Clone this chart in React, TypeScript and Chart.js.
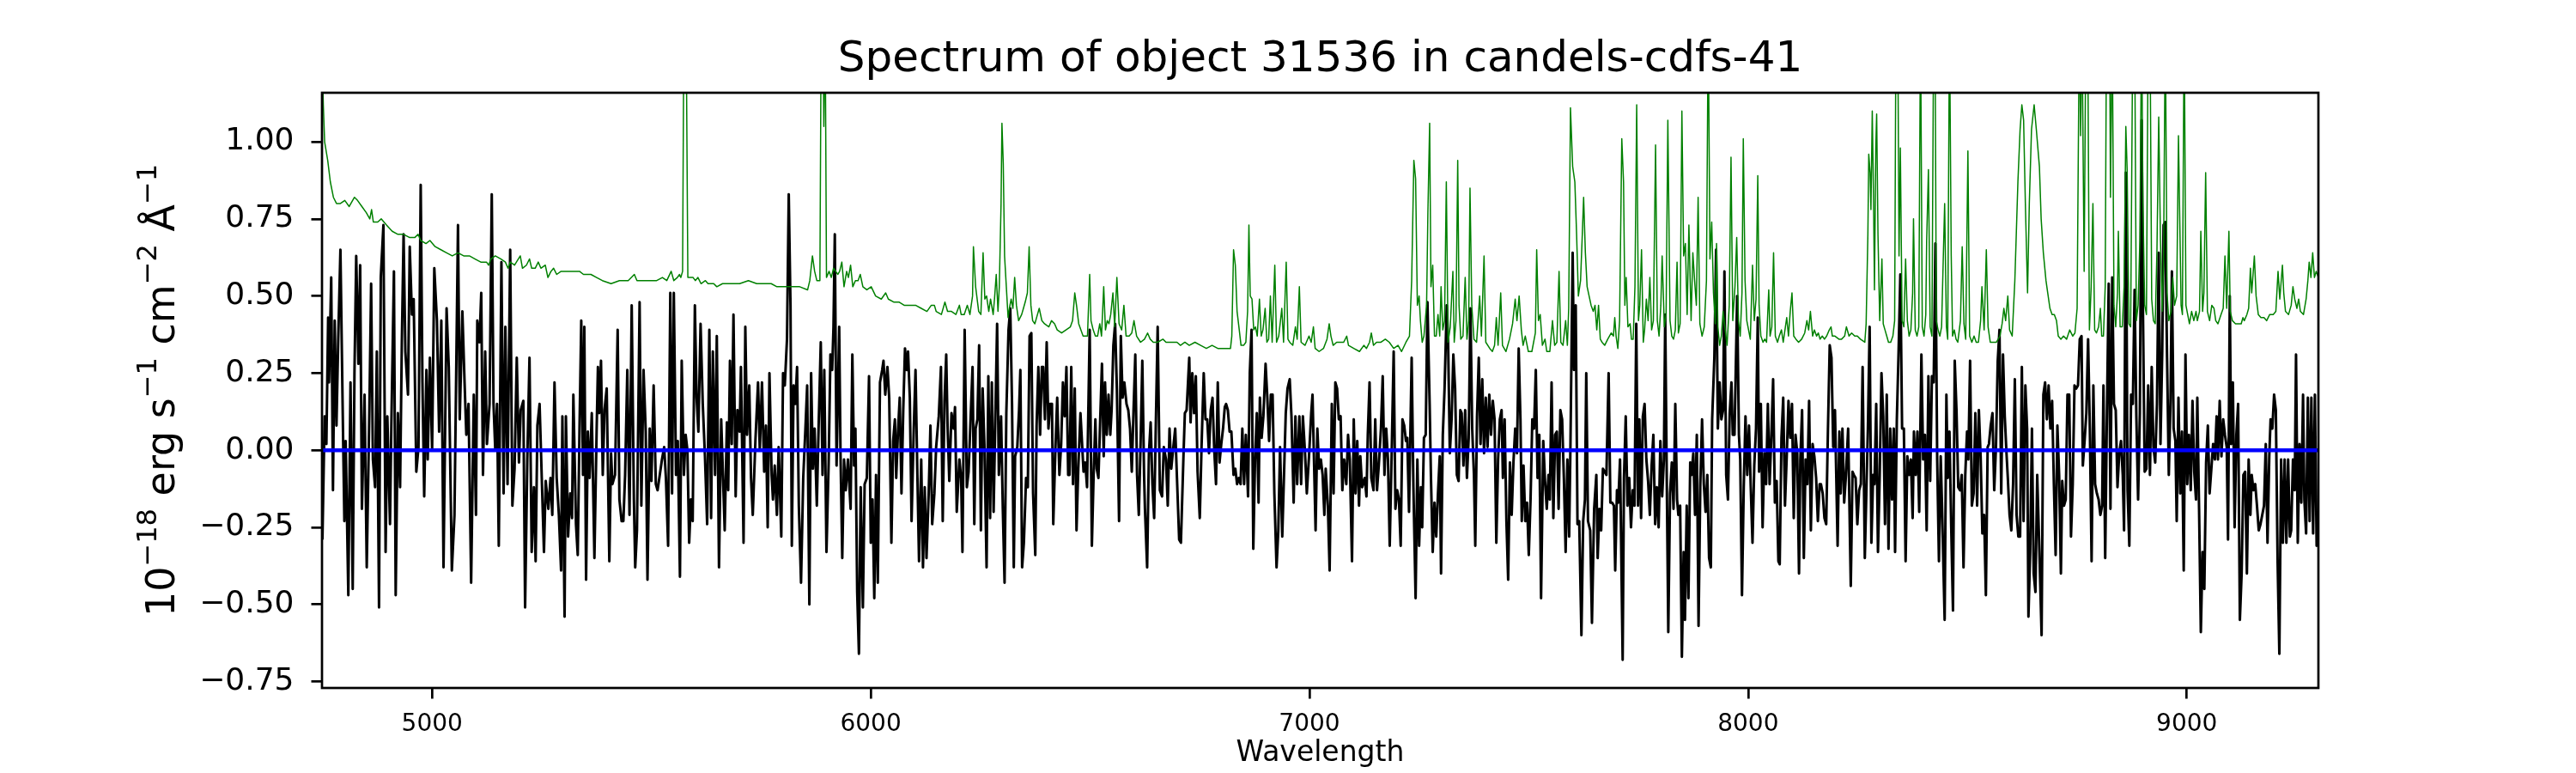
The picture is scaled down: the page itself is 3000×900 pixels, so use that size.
import React, { useEffect, useRef } from 'react';
import { Chart, registerables } from 'chart.js';

Chart.register(...registerables);

const TITLE = 'Spectrum of object 31536 in candels-cdfs-41';
const X_LABEL = 'Wavelength';
const Y_LABEL_PARTS: { t: string; sup: boolean }[] = [
  { t: '10', sup: false },
  { t: '\u221218', sup: true },
  { t: ' erg s', sup: false },
  { t: '\u22121', sup: true },
  { t: ' cm', sup: false },
  { t: '\u22122', sup: true },
  { t: ' \u00c5', sup: false },
  { t: '\u22121', sup: true },
];

const X_RANGE = [4749, 9300];
const Y_RANGE = [-0.771, 1.159];
const X_TICKS = [5000, 6000, 7000, 8000, 9000];
const Y_TICKS = [-0.75, -0.5, -0.25, 0, 0.25, 0.5, 0.75, 1.0];
const ZERO_LEVEL = 0;

// Observed flux [wavelength (Å), flux (1e-18 erg/s/cm2/Å)]
const FLUX: [number, number][] = [
[4750,-0.29],[4755,0.11],[4759,0.02],[4763,0.43],[4765,0.22],[4770,0.56],[4774,-0.13],[4778,0.42],[4782,0.08],[4786,0.36],[4791,0.65],[4797,0.05],[4800,-0.23],[4803,0.03],[4809,-0.47],[4814,0.22],[4819,-0.45],[4823,0.25],[4827,0.63],[4832,0.28],[4836,0.60],[4840,-0.19],[4846,0.18],[4851,-0.38],[4857,0.13],[4861,0.54],[4865,-0.03],[4870,-0.12],[4874,0.32],[4879,-0.51],[4883,0.56],[4889,0.73],[4894,-0.33],[4898,0.11],[4904,-0.24],[4907,0.07],[4913,0.58],[4917,-0.47],[4922,0.12],[4927,-0.12],[4931,0.35],[4935,0.70],[4939,0.32],[4945,0.18],[4949,0.66],[4954,0.44],[4958,0.49],[4964,-0.07],[4969,0.01],[4974,0.86],[4978,0.22],[4982,-0.15],[4987,0.26],[4990,-0.03],[4995,0.30],[5000,0.00],[5005,0.59],[5011,0.42],[5016,0.06],[5021,0.42],[5026,-0.38],[5033,0.46],[5038,0.27],[5045,-0.39],[5051,-0.21],[5059,0.73],[5063,0.10],[5069,0.45],[5074,0.22],[5078,0.05],[5083,0.15],[5089,-0.43],[5095,0.18],[5100,-0.21],[5103,0.42],[5108,0.35],[5112,0.51],[5116,-0.08],[5121,0.32],[5125,0.02],[5131,0.15],[5136,0.83],[5140,0.15],[5144,0.00],[5148,0.15],[5152,-0.31],[5158,0.61],[5163,-0.14],[5167,0.40],[5172,-0.11],[5178,0.65],[5183,-0.18],[5188,-0.06],[5193,0.30],[5198,-0.04],[5202,0.13],[5208,0.16],[5212,-0.51],[5217,-0.03],[5222,0.30],[5227,-0.33],[5232,-0.12],[5236,-0.36],[5240,0.08],[5245,0.15],[5250,-0.09],[5255,-0.33],[5259,-0.10],[5265,-0.19],[5270,-0.09],[5274,-0.21],[5279,0.22],[5284,-0.09],[5289,-0.21],[5294,-0.39],[5297,0.11],[5302,-0.54],[5305,0.11],[5310,-0.28],[5315,-0.14],[5319,-0.22],[5322,0.18],
[5328,-0.24],[5332,-0.34],[5336,0.07],[5340,0.42],[5344,-0.08],[5347,0.40],[5351,-0.42],[5355,0.06],[5359,-0.09],[5364,0.12],[5370,-0.35],[5375,0.06],[5378,0.27],[5381,0.12],[5385,0.29],[5389,-0.08],[5393,0.13],[5398,0.20],[5404,-0.36],[5408,-0.01],[5411,-0.11],[5417,-0.08],[5423,0.39],[5427,-0.16],[5432,-0.23],[5436,-0.23],[5440,-0.08],[5445,0.26],[5450,-0.21],[5455,0.47],[5460,-0.16],[5463,-0.38],[5467,-0.26],[5473,0.48],[5477,-0.18],[5482,0.26],[5487,0.06],[5491,-0.42],[5496,0.07],[5500,-0.10],[5505,0.21],[5510,-0.11],[5514,-0.13],[5518,-0.09],[5524,-0.03],[5529,0.01],[5533,-0.09],[5538,-0.31],[5543,0.51],[5547,-0.14],[5551,0.51],[5556,-0.08],[5560,0.03],[5565,-0.41],[5569,0.29],[5574,-0.08],[5578,0.05],[5582,0.00],[5586,-0.30],[5590,-0.16],[5594,-0.23],[5599,0.47],[5603,0.17],[5607,0.06],[5612,0.41],[5617,0.15],[5622,-0.02],[5627,-0.24],[5632,0.39],[5636,-0.22],[5640,0.32],[5645,-0.08],[5649,0.37],[5654,-0.38],[5659,0.10],[5663,-0.08],[5667,-0.26],[5672,0.09],[5675,-0.13],[5679,0.29],[5683,0.02],[5687,0.44],[5692,-0.15],[5696,0.13],[5701,0.06],[5704,0.27],[5710,-0.30],[5714,0.40],[5718,0.05],[5723,0.21],[5727,-0.09],[5731,-0.21],[5737,0.03],[5743,0.22],[5747,0.00],[5752,0.22],[5757,-0.07],[5761,0.08],[5765,-0.25],[5769,0.25],[5774,-0.08],[5777,-0.16],[5781,-0.05],[5786,-0.21],[5790,0.01],[5796,-0.28],[5800,0.25],[5804,0.21],[5809,0.36],[5813,0.83],[5817,0.47],[5820,-0.31],[5824,0.21],[5828,0.15],[5832,0.27],[5836,-0.18],[5841,-0.43],[5846,-0.09],[5851,0.07],[5855,0.21],[5860,-0.50],[5864,0.25],[5868,-0.06],[5872,0.07],[5877,-0.18],[5881,0.07],[5886,0.35],[5890,-0.08],[5894,0.26],[5899,-0.33],
[5904,-0.04],[5908,0.31],[5912,0.26],[5915,0.40],[5918,0.70],[5922,-0.05],[5928,0.40],[5931,-0.01],[5935,-0.35],[5939,-0.03],[5943,-0.13],[5948,-0.03],[5954,-0.19],[5958,0.31],[5962,-0.05],[5965,0.07],[5969,-0.46],[5973,-0.66],[5977,-0.12],[5982,-0.51],[5986,-0.11],[5991,-0.09],[5996,0.24],[6000,-0.30],[6004,-0.16],[6008,-0.48],[6012,-0.08],[6016,-0.43],[6021,0.22],[6026,0.26],[6029,0.29],[6033,0.18],[6038,0.27],[6042,0.17],[6047,-0.30],[6051,0.03],[6055,0.10],[6058,-0.09],[6062,0.06],[6066,0.17],[6070,-0.14],[6074,0.13],[6078,0.33],[6082,0.26],[6085,0.32],[6089,0.17],[6093,-0.23],[6098,0.07],[6102,0.26],[6106,-0.06],[6110,-0.36],[6115,-0.03],[6119,-0.38],[6123,-0.12],[6127,-0.35],[6132,-0.14],[6136,0.08],[6140,-0.24],[6145,-0.14],[6149,0.01],[6155,0.11],[6160,0.27],[6164,-0.23],[6168,0.16],[6172,0.31],[6175,0.08],[6179,-0.10],[6184,0.12],[6189,0.07],[6192,0.14],[6196,-0.20],[6202,-0.03],[6206,-0.09],[6209,-0.33],[6214,0.39],[6219,-0.12],[6223,-0.07],[6228,0.12],[6232,0.27],[6236,-0.24],[6239,0.07],[6243,0.10],[6247,0.34],[6251,-0.26],[6255,0.20],[6259,0.02],[6264,-0.38],[6268,0.24],[6272,-0.22],[6276,0.22],[6280,-0.20],[6284,0.11],[6288,0.41],[6292,-0.08],[6297,0.11],[6301,-0.19],[6305,-0.43],[6309,0.12],[6314,0.39],[6318,0.46],[6322,0.15],[6326,-0.38],[6329,-0.02],[6334,0.01],[6338,0.13],[6341,0.26],[6345,-0.38],[6349,-0.30],[6354,-0.09],[6358,-0.12],[6362,0.37],[6366,0.38],[6370,-0.14],[6375,-0.34],[6378,0.08],[6382,0.27],[6386,0.05],[6390,0.27],[6393,0.27],[6397,0.10],[6401,0.35],[6405,0.07],[6409,0.15],[6413,0.15],[6416,-0.24],[6421,0.01],[6425,0.17],[6430,-0.08],[6434,0.02],[6438,0.22],[6442,0.11],[6446,0.27],[6450,-0.08],[6453,-0.08],[6457,0.27],[6461,-0.11],[6465,0.20],[6469,-0.26],[6473,-0.06],[6478,0.12],
[6485,-0.07],[6489,-0.04],[6493,-0.12],[6499,0.39],[6504,-0.31],[6508,-0.08],[6512,0.10],[6515,-0.06],[6519,-0.09],[6523,0.10],[6527,0.28],[6531,-0.02],[6534,0.22],[6538,0.05],[6542,0.18],[6546,0.05],[6549,0.13],[6553,0.34],[6557,0.41],[6561,0.20],[6566,-0.23],[6570,0.37],[6574,0.17],[6578,0.22],[6583,0.15],[6587,0.13],[6591,0.07],[6595,-0.07],[6599,0.13],[6603,0.31],[6607,-0.08],[6611,-0.21],[6615,0.02],[6619,0.29],[6623,-0.08],[6625,-0.19],[6630,-0.38],[6634,-0.01],[6638,0.09],[6642,-0.11],[6646,-0.22],[6650,0.10],[6654,0.40],[6659,-0.13],[6664,-0.15],[6668,0.01],[6673,-0.03],[6677,-0.18],[6681,0.07],[6685,-0.06],[6689,0.00],[6694,0.07],[6698,-0.09],[6703,-0.29],[6707,-0.30],[6713,-0.01],[6716,0.12],[6720,0.13],[6726,0.30],[6729,0.09],[6733,0.25],[6737,0.12],[6741,0.24],[6745,-0.07],[6750,-0.22],[6754,0.01],[6759,0.25],[6763,0.10],[6767,0.10],[6771,-0.01],[6775,0.13],[6779,0.17],[6783,0.00],[6787,-0.11],[6791,0.22],[6795,-0.04],[6799,0.02],[6803,0.07],[6807,0.14],[6810,0.15],[6814,0.13],[6818,0.06],[6822,0.06],[6827,-0.08],[6831,-0.06],[6835,-0.11],[6839,-0.09],[6843,-0.11],[6847,0.07],[6851,-0.11],[6855,0.05],[6860,-0.15],[6864,0.25],[6868,0.39],[6872,-0.32],[6876,-0.03],[6880,0.12],[6884,-0.17],[6887,0.17],[6891,0.04],[6895,0.11],[6900,0.28],[6904,0.17],[6908,0.03],[6912,0.18],[6916,0.18],[6920,-0.14],[6925,-0.38],[6929,-0.26],[6933,0.01],[6938,-0.28],[6942,-0.08],[6946,0.12],[6950,0.20],[6955,0.23],[6959,0.11],[6964,-0.17],[6968,0.11],[6972,-0.11],[6977,0.11],[6981,-0.11],[6985,0.11],[6990,-0.01],[6994,-0.14],[6999,-0.02],[7004,0.12],[7007,0.18],[7014,-0.26],[7018,0.07],[7022,-0.06],[7026,-0.03],[7030,-0.08],[7034,-0.21],[7037,-0.06],[7042,-0.18],[7046,-0.39],[7051,0.15],
[7055,-0.14],[7059,0.22],[7063,0.20],[7067,0.10],[7071,0.11],[7075,-0.13],[7079,-0.03],[7084,-0.11],[7088,0.05],[7092,-0.03],[7097,-0.36],[7101,0.10],[7105,-0.14],[7109,0.03],[7113,-0.18],[7116,-0.02],[7120,-0.12],[7126,-0.09],[7130,-0.15],[7133,0.05],[7137,0.22],[7141,-0.09],[7146,-0.13],[7150,0.10],[7154,-0.13],[7158,-0.05],[7163,0.07],[7167,0.24],[7171,-0.08],[7175,0.07],[7179,-0.03],[7183,-0.31],[7188,0.03],[7192,0.32],[7196,-0.19],[7200,-0.13],[7204,-0.16],[7208,-0.31],[7212,0.10],[7216,0.08],[7220,0.03],[7223,0.04],[7227,-0.20],[7233,0.30],[7237,-0.12],[7242,-0.48],[7246,-0.03],[7250,-0.31],[7254,-0.12],[7257,-0.25],[7261,0.04],[7265,0.05],[7269,0.48],[7274,0.15],[7277,-0.09],[7281,-0.33],[7285,-0.17],[7289,-0.28],[7293,-0.14],[7297,-0.02],[7300,-0.40],[7304,0.05],[7308,0.20],[7313,0.47],[7316,0.36],[7320,-0.01],[7324,0.10],[7328,0.31],[7332,0.20],[7336,-0.08],[7340,-0.10],[7344,0.13],[7347,0.12],[7351,-0.05],[7355,0.13],[7359,-0.09],[7363,0.04],[7367,0.46],[7371,0.07],[7375,-0.08],[7378,-0.31],[7382,0.11],[7386,0.30],[7390,0.02],[7394,0.23],[7398,-0.01],[7402,0.17],[7406,0.01],[7410,0.18],[7414,0.05],[7418,0.16],[7422,0.10],[7426,-0.30],[7430,-0.03],[7434,0.10],[7438,0.13],[7441,-0.09],[7445,0.10],[7449,-0.23],[7453,-0.42],[7457,-0.04],[7461,-0.21],[7465,-0.04],[7469,0.07],[7473,-0.01],[7477,0.33],[7481,0.10],[7484,-0.23],[7488,-0.05],[7492,-0.23],[7496,-0.17],[7500,-0.34],[7504,-0.16],[7508,0.10],[7512,0.07],[7516,0.26],[7520,-0.09],[7524,0.05],[7528,-0.48],[7533,0.03],[7537,-0.10],[7541,-0.19],[7545,-0.08],[7548,-0.16],[7552,0.22],[7556,-0.22],[7560,0.05],[7564,0.06],[7568,-0.19],[7572,0.13],[7576,0.10],[7580,-0.09],[7584,-0.33],[7588,-0.03],[7592,-0.28],[7595,0.02],[7600,0.64],[7603,0.26],[7607,0.47],[7611,-0.24],[7615,-0.23],[7620,-0.60],[7624,-0.23],[7628,-0.16],[7631,0.25],
[7635,-0.23],[7640,-0.26],[7644,-0.56],[7649,-0.19],[7654,-0.08],[7657,-0.35],[7661,-0.19],[7665,-0.26],[7669,-0.06],[7673,-0.07],[7677,-0.08],[7682,0.25],[7686,-0.17],[7690,-0.17],[7694,-0.18],[7697,-0.39],[7701,-0.13],[7704,-0.17],[7708,-0.03],[7714,-0.68],[7717,-0.09],[7721,0.11],[7725,-0.18],[7729,-0.09],[7733,-0.25],[7737,-0.13],[7741,-0.18],[7745,0.41],[7749,-0.18],[7752,0.10],[7756,-0.22],[7760,0.11],[7764,0.15],[7768,-0.03],[7772,-0.10],[7776,-0.21],[7780,-0.05],[7784,0.05],[7788,-0.24],[7792,-0.12],[7796,-0.25],[7800,0.03],[7804,-0.15],[7808,-0.03],[7811,0.44],[7815,-0.16],[7818,-0.59],[7822,-0.14],[7826,-0.04],[7830,-0.19],[7834,0.15],[7838,-0.16],[7841,-0.21],[7845,-0.18],[7849,-0.67],[7853,-0.33],[7856,-0.55],[7860,-0.18],[7864,-0.48],[7868,-0.04],[7871,-0.08],[7875,-0.01],[7879,-0.21],[7883,0.05],[7887,-0.57],[7891,-0.11],[7895,0.10],[7899,-0.11],[7903,-0.20],[7907,-0.08],[7911,-0.35],[7915,-0.38],[7918,0.10],[7923,0.30],[7927,0.65],[7931,0.07],[7935,0.22],[7939,0.10],[7943,0.13],[7946,0.58],[7950,-0.08],[7954,-0.16],[7958,0.12],[7962,0.22],[7965,0.05],[7969,0.05],[7975,0.50],[7979,0.05],[7982,-0.03],[7986,-0.47],[7990,-0.12],[7994,0.11],[7998,-0.08],[8002,0.08],[8006,-0.12],[8010,-0.30],[8014,-0.05],[8018,0.07],[8022,0.43],[8025,-0.07],[8029,0.15],[8033,-0.25],[8037,-0.01],[8041,-0.11],[8045,0.15],[8049,-0.11],[8053,0.05],[8057,0.23],[8061,-0.17],[8065,-0.10],[8069,-0.36],[8072,-0.37],[8076,0.04],[8080,0.17],[8084,-0.18],[8088,-0.02],[8092,0.16],[8096,0.04],[8100,0.15],[8104,-0.22],[8108,0.05],[8112,-0.01],[8116,-0.40],[8119,-0.03],[8123,0.13],[8127,-0.35],[8131,-0.03],[8135,-0.11],[8139,0.16],[8143,-0.26],[8147,0.02],[8151,-0.02],[8155,-0.09],[8159,-0.23],[8163,-0.11],[8166,-0.11],[8170,-0.14],[8174,-0.22],[8178,-0.24],[8182,0.07],[8186,0.34],[8190,0.30],[8194,0.01],[8198,0.13],
[8204,-0.31],[8208,0.06],[8211,-0.14],[8215,0.07],[8219,-0.17],[8223,-0.08],[8228,0.07],[8234,-0.44],[8238,-0.07],[8241,-0.08],[8245,-0.09],[8249,-0.24],[8253,-0.13],[8257,-0.11],[8261,0.27],[8266,-0.35],[8270,-0.11],[8273,0.07],[8277,0.40],[8281,-0.30],[8285,-0.08],[8288,-0.11],[8292,0.15],[8296,-0.33],[8300,-0.08],[8304,0.25],[8308,0.11],[8312,-0.24],[8316,0.18],[8320,-0.32],[8324,0.07],[8328,-0.16],[8332,0.07],[8335,-0.33],[8339,0.10],[8343,0.32],[8347,0.57],[8351,0.07],[8355,0.07],[8359,-0.36],[8363,-0.02],[8367,-0.08],[8371,-0.03],[8375,-0.22],[8378,0.06],[8382,-0.08],[8386,0.06],[8390,-0.20],[8395,0.31],[8399,-0.03],[8403,0.05],[8407,-0.26],[8411,0.24],[8415,-0.10],[8419,0.24],[8423,0.22],[8427,0.67],[8431,-0.03],[8435,-0.36],[8439,-0.02],[8442,-0.18],[8448,-0.55],[8452,0.18],[8455,-0.09],[8459,0.06],[8463,-0.25],[8467,-0.52],[8471,0.29],[8475,0.13],[8479,-0.12],[8483,-0.13],[8487,-0.08],[8491,-0.38],[8495,-0.08],[8499,0.06],[8502,-0.03],[8506,0.29],[8510,-0.18],[8514,-0.14],[8518,0.12],[8522,-0.18],[8526,0.13],[8530,-0.02],[8534,-0.27],[8538,-0.21],[8542,-0.47],[8546,0.01],[8549,0.02],[8553,0.08],[8557,0.12],[8561,-0.13],[8565,0.01],[8569,0.29],[8573,0.39],[8577,-0.14],[8581,0.31],[8585,0.11],[8589,-0.01],[8592,-0.09],[8596,-0.21],[8600,-0.26],[8604,-0.11],[8608,0.23],[8612,-0.21],[8616,-0.28],[8620,-0.28],[8624,0.27],[8628,-0.23],[8632,0.21],[8636,0.07],[8639,-0.54],[8643,-0.33],[8647,0.07],[8651,-0.40],[8655,-0.46],[8659,-0.08],[8664,-0.33],[8669,-0.60],[8673,0.18],[8677,0.22],[8681,0.10],[8685,0.21],[8689,0.07],[8693,0.16],[8697,-0.11],[8701,-0.34],[8705,0.08],[8709,-0.08],[8713,-0.40],[8716,-0.10],[8720,-0.18],[8724,-0.16],[8728,0.18],[8732,0.18],[8736,-0.28],[8740,-0.11],[8744,0.21],[8748,0.20],[8752,0.21],[8756,0.36],[8760,0.37],[8763,-0.05],[8767,0.03],[8771,0.12],[8775,0.36],[8779,0.07],[8783,-0.36],[8787,0.21],
[8791,-0.11],[8795,-0.14],[8799,-0.16],[8803,-0.21],[8807,-0.18],[8810,0.21],[8814,-0.35],[8818,0.13],[8822,0.54],[8826,-0.19],[8830,0.56],[8834,0.15],[8838,0.13],[8842,-0.12],[8846,-0.01],[8850,0.03],[8854,-0.08],[8857,-0.26],[8861,0.90],[8865,-0.13],[8869,-0.31],[8873,0.18],[8877,0.15],[8881,0.52],[8885,0.11],[8889,-0.16],[8893,0.12],[8897,1.07],[8900,0.46],[8904,-0.07],[8908,-0.06],[8912,0.21],[8916,-0.08],[8920,0.27],[8924,0.01],[8928,-0.04],[8932,0.15],[8936,0.64],[8940,0.02],[8944,0.32],[8947,0.73],[8951,0.74],[8955,0.30],[8959,-0.08],[8963,0.17],[8966,0.58],[8970,0.07],[8974,0.03],[8977,-0.23],[8981,0.17],[8985,-0.14],[8989,0.06],[8993,-0.39],[8997,0.31],[9001,-0.11],[9005,0.05],[9009,-0.13],[9013,0.16],[9017,-0.07],[9021,-0.16],[9024,0.17],[9028,-0.19],[9032,-0.59],[9036,-0.33],[9040,-0.45],[9044,-0.04],[9048,0.08],[9052,-0.14],[9056,-0.06],[9060,0.02],[9064,-0.03],[9068,0.11],[9071,-0.03],[9075,0.16],[9079,-0.02],[9083,0.10],[9087,0.05],[9091,0.01],[9094,-0.29],[9098,0.50],[9101,0.02],[9105,0.22],[9109,-0.25],[9113,0.05],[9117,0.15],[9121,-0.55],[9125,-0.40],[9129,-0.08],[9133,-0.07],[9137,-0.40],[9141,-0.03],[9145,-0.21],[9148,-0.08],[9152,-0.13],[9156,-0.11],[9160,-0.18],[9164,-0.26],[9168,-0.24],[9172,-0.21],[9176,-0.18],[9180,0.02],[9184,-0.30],[9188,-0.02],[9191,0.10],[9195,0.07],[9199,0.18],[9203,0.13],[9207,-0.36],[9211,-0.66],[9215,-0.03],[9219,-0.30],[9223,-0.03],[9227,-0.30],[9231,-0.03],[9235,-0.28],[9238,-0.26],[9242,-0.03],[9246,-0.13],[9249,0.31],[9253,-0.30],[9257,0.02],[9261,-0.17],[9265,0.18],[9268,-0.16],[9272,-0.27],[9276,0.17],[9280,-0.23],[9284,0.17],[9288,-0.27],[9292,0.18],[9296,-0.31],[9300,-0.25]
];

// Flux uncertainty / sky noise [wavelength (Å), value]
const ERROR: [number, number][] = [
[4749,1.30],[4752,1.12],[4755,1.00],[4762,0.94],[4768,0.87],[4775,0.82],[4782,0.80],[4791,0.80],[4801,0.81],[4811,0.79],[4823,0.82],[4830,0.81],[4840,0.79],[4850,0.77],[4858,0.75],[4862,0.78],[4866,0.74],[4876,0.74],[4884,0.75],[4896,0.73],[4909,0.71],[4922,0.70],[4935,0.70],[4948,0.69],[4961,0.69],[4968,0.70],[4974,0.68],[4986,0.67],[4995,0.68],[5007,0.66],[5020,0.65],[5033,0.64],[5046,0.63],[5059,0.64],[5072,0.63],[5085,0.63],[5098,0.62],[5111,0.61],[5124,0.61],[5129,0.60],[5134,0.62],[5144,0.63],[5157,0.62],[5167,0.61],[5173,0.59],[5178,0.61],[5188,0.60],[5201,0.63],[5206,0.59],[5215,0.60],[5222,0.62],[5227,0.59],[5235,0.59],[5242,0.61],[5248,0.59],[5258,0.60],[5264,0.56],[5271,0.58],[5277,0.59],[5284,0.57],[5294,0.58],
[5336,0.58],[5345,0.57],[5362,0.57],[5375,0.56],[5388,0.55],[5408,0.54],[5427,0.55],[5447,0.55],[5461,0.57],[5467,0.55],[5486,0.55],[5502,0.55],[5512,0.55],[5525,0.56],[5535,0.55],[5545,0.58],[5551,0.55],[5559,0.56],[5564,0.57],[5567,0.56],[5571,0.58],[5574,1.40],[5579,1.40],[5583,0.56],[5590,0.56],[5595,0.56],[5600,0.55],[5606,0.56],[5613,0.54],[5623,0.55],[5629,0.54],[5642,0.54],[5649,0.53],[5662,0.54],[5682,0.54],[5701,0.54],[5721,0.55],[5740,0.54],[5760,0.54],[5773,0.54],[5786,0.53],[5799,0.53],[5819,0.53],[5838,0.53],[5856,0.52],[5861,0.55],[5867,0.63],[5872,0.58],[5877,0.55],[5884,0.55],[5887,1.40],[5891,1.40],[5893,1.05],[5896,1.40],[5899,0.56],
[5905,0.58],[5910,0.56],[5915,0.59],[5920,0.58],[5925,0.57],[5929,0.58],[5934,0.61],[5939,0.53],[5945,0.58],[5949,0.56],[5954,0.60],[5959,0.53],[5965,0.55],[5971,0.55],[5976,0.57],[5982,0.53],[5991,0.52],[6001,0.53],[6011,0.50],[6024,0.49],[6034,0.51],[6040,0.49],[6053,0.48],[6065,0.48],[6076,0.47],[6089,0.47],[6102,0.47],[6115,0.46],[6128,0.45],[6138,0.47],[6145,0.47],[6149,0.45],[6161,0.44],[6169,0.48],[6175,0.45],[6184,0.45],[6194,0.44],[6202,0.47],[6206,0.44],[6213,0.44],[6220,0.47],[6226,0.44],[6232,0.50],[6234,0.66],[6239,0.53],[6246,0.45],[6251,0.44],[6256,0.64],[6260,0.49],[6264,0.50],[6269,0.45],[6273,0.49],[6279,0.44],[6282,0.49],[6286,0.57],[6290,0.45],[6293,0.53],[6297,0.80],[6299,1.06],[6302,0.93],[6305,0.63],[6309,0.53],[6313,0.43],[6316,0.46],[6320,0.49],[6324,0.46],[6328,0.56],[6332,0.47],[6337,0.42],[6344,0.44],[6348,0.46],[6352,0.48],[6357,0.51],[6361,0.66],[6365,0.47],[6369,0.42],[6374,0.41],[6380,0.44],[6384,0.46],[6390,0.42],[6396,0.41],[6406,0.40],[6412,0.42],[6419,0.41],[6425,0.39],[6435,0.38],[6445,0.39],[6455,0.40],[6460,0.42],[6465,0.51],[6469,0.47],[6474,0.41],
[6484,0.37],[6494,0.37],[6499,0.57],[6502,0.42],[6507,0.39],[6512,0.37],[6517,0.37],[6522,0.41],[6526,0.37],[6531,0.53],[6535,0.39],[6539,0.42],[6543,0.41],[6547,0.44],[6552,0.51],[6556,0.40],[6561,0.56],[6566,0.41],[6572,0.39],[6577,0.47],[6582,0.37],[6589,0.37],[6595,0.38],[6600,0.42],[6606,0.37],[6615,0.35],[6624,0.36],[6631,0.38],[6637,0.36],[6644,0.35],[6654,0.35],[6666,0.36],[6673,0.35],[6686,0.35],[6698,0.35],[6706,0.34],[6716,0.35],[6726,0.34],[6739,0.35],[6752,0.34],[6765,0.33],[6778,0.34],[6791,0.33],[6807,0.33],[6820,0.33],[6823,0.37],[6827,0.65],[6831,0.60],[6835,0.45],[6840,0.39],[6844,0.34],[6850,0.34],[6855,0.35],[6859,0.45],[6862,0.73],[6865,0.50],[6869,0.49],[6873,0.39],[6877,0.40],[6881,0.37],[6886,0.49],[6890,0.37],[6894,0.39],[6899,0.46],[6903,0.35],[6907,0.36],[6911,0.50],[6915,0.35],[6921,0.60],[6925,0.35],[6930,0.37],[6937,0.46],[6941,0.35],[6947,0.61],[6951,0.36],[6955,0.35],[6962,0.34],[6968,0.40],[6972,0.36],[6977,0.53],[6981,0.35],[6990,0.34],[6999,0.37],[7004,0.35],[7009,0.40],[7013,0.33],[7022,0.32],[7032,0.33],[7040,0.36],[7045,0.41],[7049,0.37],[7054,0.34],
[7062,0.35],[7068,0.35],[7078,0.35],[7085,0.37],[7089,0.34],[7101,0.33],[7114,0.32],[7124,0.34],[7130,0.33],[7137,0.35],[7141,0.38],[7146,0.34],[7153,0.35],[7163,0.35],[7173,0.36],[7182,0.35],[7192,0.33],[7202,0.34],[7210,0.32],[7220,0.35],[7228,0.37],[7233,0.55],[7238,0.94],[7242,0.88],[7246,0.47],[7250,0.50],[7253,0.42],[7257,0.35],[7261,0.37],[7267,0.47],[7270,0.77],[7274,1.06],[7277,0.53],[7281,0.60],[7285,0.37],[7289,0.37],[7293,0.44],[7297,0.37],[7300,0.53],[7304,0.39],[7308,0.42],[7312,0.87],[7316,0.35],[7321,0.40],[7327,0.58],[7330,0.35],[7334,0.42],[7338,0.94],[7341,0.47],[7345,0.36],[7350,0.37],[7355,0.56],[7359,0.36],[7363,0.42],[7366,0.85],[7370,0.47],[7375,0.36],[7381,0.35],[7388,0.50],[7392,0.37],[7398,0.63],[7402,0.35],[7411,0.33],[7417,0.32],[7422,0.34],[7426,0.43],[7430,0.34],[7436,0.51],[7440,0.34],[7448,0.32],[7456,0.36],[7463,0.41],[7469,0.49],[7473,0.42],[7478,0.50],[7483,0.39],[7487,0.34],[7492,0.37],[7499,0.32],[7507,0.32],[7515,0.38],[7518,0.65],[7522,0.42],[7526,0.44],[7531,0.34],[7537,0.36],[7541,0.32],[7548,0.32],[7554,0.42],[7559,0.34],[7564,0.35],[7569,0.58],[7573,0.35],[7578,0.34],[7584,0.42],[7588,0.34],[7591,0.46],[7595,1.11],[7600,0.92],[7605,0.87],[7609,0.70],[7613,0.50],[7618,0.55],[7622,0.70],[7625,0.82],[7629,0.64],[7633,0.53],
[7642,0.47],[7647,0.45],[7651,0.47],[7655,0.39],[7659,0.47],[7663,0.36],[7667,0.35],[7673,0.34],[7680,0.36],[7688,0.38],[7693,0.37],[7696,0.43],[7699,0.37],[7703,0.33],[7707,0.42],[7712,1.01],[7716,0.87],[7719,0.47],[7722,0.56],[7726,0.40],[7731,0.41],[7734,0.36],[7738,0.36],[7742,0.53],[7746,1.12],[7750,0.42],[7753,0.47],[7757,0.65],[7761,0.35],[7764,0.39],[7768,0.49],[7772,0.42],[7776,0.56],[7780,0.39],[7784,0.42],[7789,0.99],[7793,0.42],[7797,0.37],[7801,0.47],[7804,0.63],[7809,0.40],[7813,0.44],[7817,1.07],[7822,0.42],[7826,0.37],[7830,0.36],[7834,0.39],[7838,0.61],[7841,0.38],[7845,0.41],[7849,1.10],[7853,0.63],[7857,0.67],[7861,0.44],[7865,0.73],[7870,0.42],[7874,0.64],[7878,0.55],[7882,0.47],[7886,0.82],[7890,0.41],[7895,0.37],[7900,0.40],[7905,0.55],[7909,1.40],[7913,0.62],[7917,0.74],[7921,0.51],[7925,0.41],[7928,0.67],[7931,0.40],[7935,0.34],[7939,0.37],[7943,0.45],[7947,0.40],[7952,0.34],[7957,0.47],[7961,0.95],[7965,0.42],[7970,0.53],[7974,0.69],[7978,0.42],[7982,0.37],[7986,0.51],[7989,1.01],[7993,0.55],[7997,0.42],[8001,0.39],[8005,0.36],[8010,0.60],[8014,0.42],[8018,0.49],[8022,0.89],[8025,0.47],[8029,0.37],[8034,0.35],[8038,0.36],[8042,0.35],[8047,0.52],[8050,0.37],[8054,0.40],[8058,0.64],[8062,0.37],[8067,0.35],[8071,0.37],[8076,0.39],[8080,0.35],[8084,0.39],[8088,0.43],[8092,0.37],[8096,0.45],[8100,0.51],[8104,0.37],[8109,0.36],[8115,0.35],[8122,0.36],[8129,0.38],[8134,0.42],[8138,0.39],[8142,0.45],[8147,0.37],[8151,0.39],[8156,0.37],[8160,0.38],[8164,0.36],[8169,0.37],[8174,0.36],[8179,0.37],[8185,0.39],[8189,0.40],[8192,0.37],[8198,0.37],[8207,0.36],[8213,0.36],
[8220,0.37],[8224,0.40],[8230,0.37],[8236,0.38],[8243,0.37],[8249,0.37],[8256,0.36],[8266,0.35],[8269,0.41],[8273,0.70],[8275,0.96],[8278,0.90],[8280,0.78],[8283,1.10],[8286,0.80],[8288,0.52],[8291,0.98],[8293,1.09],[8296,0.70],[8300,0.42],[8305,0.62],[8308,0.41],[8312,0.39],[8316,0.37],[8320,0.35],[8325,0.35],[8330,0.37],[8334,0.42],[8337,1.40],[8341,1.40],[8344,0.63],[8347,0.98],[8351,0.42],[8355,0.40],[8359,0.62],[8363,0.42],[8367,0.37],[8371,0.39],[8375,0.51],[8377,0.75],[8381,0.39],[8385,0.37],[8389,0.40],[8393,1.40],[8397,0.40],[8401,0.37],[8405,0.44],[8407,0.68],[8411,0.91],[8415,0.40],[8419,0.37],[8423,1.40],[8426,1.40],[8429,0.42],[8433,0.39],[8437,0.37],[8441,0.40],[8445,0.63],[8448,0.80],[8452,0.40],[8455,0.36],[8459,1.40],[8463,0.63],[8466,0.37],[8470,0.39],[8474,0.36],[8478,0.35],[8484,0.42],[8488,0.66],[8492,0.41],[8496,0.36],[8501,0.97],[8505,0.37],[8510,0.35],[8515,0.37],[8520,0.35],[8525,0.35],[8530,0.42],[8533,0.53],[8538,0.39],[8543,0.65],[8547,0.40],[8552,0.35],[8559,0.35],[8566,0.35],[8574,0.37],[8579,0.41],[8583,0.46],[8587,0.42],[8592,0.50],[8596,0.39],[8602,0.37],[8608,0.55],[8615,0.87],[8620,1.04],[8624,1.12],[8628,1.07],[8632,0.80],[8637,0.51],[8641,0.80],[8646,1.04],[8652,1.12],[8657,1.04],[8664,0.92],[8668,0.75],[8673,0.64],[8679,0.55],[8683,0.51],[8688,0.46],[8693,0.44],[8698,0.44],[8703,0.42],[8707,0.37],[8713,0.36],[8719,0.37],[8726,0.36],[8733,0.39],[8740,0.37],
[8745,0.38],[8750,0.46],[8755,1.40],[8758,1.02],[8761,1.40],[8766,0.58],[8770,1.40],[8774,1.40],[8778,0.39],[8782,0.53],[8786,0.80],[8790,0.39],[8794,0.38],[8799,0.40],[8803,0.46],[8806,0.37],[8810,0.37],[8814,0.53],[8817,1.40],[8821,1.40],[8824,1.40],[8826,0.82],[8830,1.40],[8834,0.47],[8838,0.40],[8842,0.51],[8844,0.71],[8848,0.40],[8853,0.40],[8857,0.53],[8861,1.05],[8864,0.91],[8868,0.41],[8872,0.40],[8877,1.40],[8881,1.40],[8885,0.42],[8889,0.47],[8893,0.68],[8897,1.40],[8900,0.80],[8904,0.47],[8908,0.44],[8912,1.40],[8916,1.40],[8920,0.49],[8924,0.42],[8928,0.41],[8932,0.65],[8936,1.08],[8940,0.68],[8944,0.45],[8947,0.60],[8951,1.40],[8955,0.51],[8959,0.42],[8964,0.45],[8968,0.56],[8972,0.47],[8977,0.50],[8981,1.02],[8987,0.47],[8990,0.44],[8994,1.40],[8998,0.47],[9002,0.44],[9006,0.41],[9011,0.45],[9016,0.42],[9021,0.45],[9024,0.42],[9029,0.45],[9032,0.71],[9036,0.45],[9039,0.51],[9043,0.90],[9047,0.45],[9052,0.42],[9057,0.47],[9062,0.46],[9066,0.42],[9071,0.41],[9078,0.44],[9083,0.46],[9087,0.63],[9091,0.46],[9096,0.71],[9099,0.45],[9104,0.42],[9111,0.41],[9117,0.41],[9124,0.41],[9128,0.43],[9131,0.42],[9137,0.44],[9141,0.46],[9145,0.59],[9148,0.51],[9154,0.63],[9158,0.50],[9163,0.44],[9169,0.43],[9176,0.43],[9182,0.42],[9189,0.44],[9197,0.44],[9203,0.45],[9208,0.58],[9212,0.49],[9218,0.60],[9221,0.51],[9225,0.45],[9232,0.44],[9238,0.47],[9242,0.53],[9246,0.49],[9251,0.46],[9255,0.49],[9259,0.45],[9266,0.44],[9272,0.49],[9276,0.55],[9279,0.61],[9283,0.56],[9287,0.64],[9291,0.56],[9295,0.58],[9300,0.56]
];

const FONT = '"DejaVu Sans", sans-serif';

const fmtY = (v: number) => (v < 0 ? '\u2212' : '') + Math.abs(v).toFixed(2);

const decorPlugin = {
  id: 'decor',
  afterDatasetsDraw(chart: any) {
    const { ctx, chartArea: a } = chart;
    ctx.save();
    // axes frame
    ctx.strokeStyle = '#000';
    ctx.lineWidth = 2.7;
    ctx.strokeRect(a.left, a.top, a.right - a.left, a.bottom - a.top);
    ctx.fillStyle = '#000';
    ctx.textBaseline = 'alphabetic';
    // title
    ctx.textAlign = 'center';
    ctx.font = `50px ${FONT}`;
    ctx.fillText(TITLE, (a.left + a.right) / 2, a.top - 25);
    // x label
    ctx.font = `33px ${FONT}`;
    ctx.fillText(X_LABEL, (a.left + a.right) / 2, a.bottom + 85);
    // y label (rotated, with superscripts)
    const M = 46, S = 32, R = 21;
    ctx.translate(a.left - 172, (a.top + a.bottom) / 2);
    ctx.rotate(-Math.PI / 2);
    ctx.textAlign = 'left';
    const widths = Y_LABEL_PARTS.map((p) => {
      ctx.font = `${p.sup ? S : M}px ${FONT}`;
      return ctx.measureText(p.t).width;
    });
    const total = widths.reduce((s, w) => s + w, 0);
    let x = -total / 2;
    Y_LABEL_PARTS.forEach((p, i) => {
      ctx.font = `${p.sup ? S : M}px ${FONT}`;
      ctx.fillText(p.t, x, p.sup ? -R : 0);
      x += widths[i];
    });
    ctx.restore();
  },
};

export default function App() {
  const ref = useRef<HTMLCanvasElement | null>(null);
  useEffect(() => {
    document.body.style.margin = '0';
    const canvas = ref.current;
    if (!canvas) return;
    const axisGrid = {
      display: true,
      drawOnChartArea: false,
      drawTicks: true,
      tickLength: 12.5,
      lineWidth: 2.7,
      color: '#000',
    };
    const chart = new Chart(canvas, {
      type: 'line',
      data: {
        datasets: [
          {
            label: 'zero',
            data: X_RANGE.map((x) => ({ x, y: ZERO_LEVEL })),
            borderColor: '#0000ff',
            borderWidth: 4.5,
            order: 0,
          },
          {
            label: 'error',
            data: ERROR.map(([x, y]) => ({ x, y })),
            borderColor: '#008000',
            borderWidth: 1.5,
            order: 1,
          },
          {
            label: 'flux',
            data: FLUX.map(([x, y]) => ({ x, y })),
            borderColor: '#000000',
            borderWidth: 3,
            order: 2,
          },
        ],
      },
      options: {
        animation: false,
        responsive: false,
        devicePixelRatio: 1,
        events: [],
        layout: { padding: { top: 108, right: 300, bottom: 0, left: 0 } },
        elements: {
          point: { radius: 0 },
          line: { tension: 0, fill: false, borderJoinStyle: 'round', borderCapStyle: 'butt' },
        },
        plugins: {
          legend: { display: false },
          tooltip: { enabled: false },
          title: { display: false },
        },
        scales: {
          x: {
            type: 'linear',
            min: X_RANGE[0],
            max: X_RANGE[1],
            afterFit: (s: any) => { s.height = 99; },
            afterBuildTicks: (s: any) => { s.ticks = X_TICKS.map((value) => ({ value })); },
            grid: axisGrid,
            border: { display: false },
            ticks: {
              autoSkip: false,
              maxRotation: 0,
              padding: 13,
              color: '#000',
              font: { family: FONT, size: 28 },
              callback: (v: any) => String(v),
            },
          },
          y: {
            type: 'linear',
            min: Y_RANGE[0],
            max: Y_RANGE[1],
            afterFit: (s: any) => { s.width = 375; },
            afterBuildTicks: (s: any) => { s.ticks = Y_TICKS.map((value) => ({ value })); },
            grid: axisGrid,
            border: { display: false },
            ticks: {
              padding: 20,
              color: '#000',
              font: { family: FONT, size: 36 },
              callback: (v: any) => fmtY(Number(v)),
            },
          },
        },
      },
      plugins: [decorPlugin],
    } as any);
    return () => chart.destroy();
  }, []);
  return <canvas ref={ref} width={3000} height={900} style={{ display: 'block' }} />;
}
